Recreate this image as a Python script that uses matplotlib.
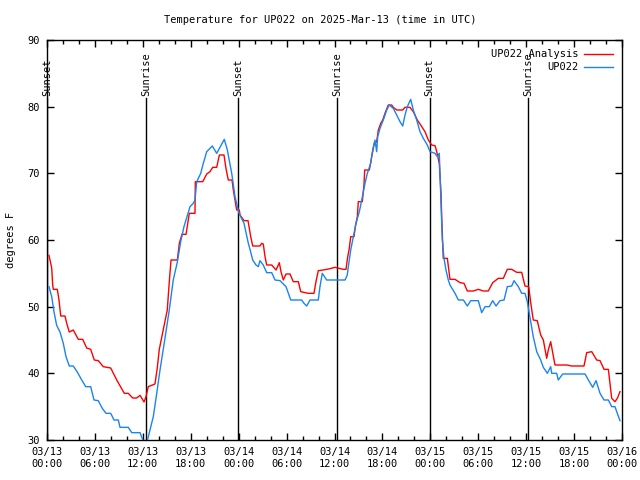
import matplotlib
matplotlib.use("Agg")
import matplotlib.pyplot as plt
from matplotlib.ticker import MultipleLocator, FixedLocator

plt.rcParams['font.family'] = ['DejaVu Sans Mono']

title = "Temperature for UP022 on 2025-Mar-13 (time in UTC)"
ylabel = "degrees F"

# hours since 03/13 00:00 UTC
red_h = [0.25, 0.59, 0.71, 0.79, 1.29, 1.50, 1.72, 2.25, 2.47, 2.79, 3.29, 3.92, 4.47, 4.97, 5.47, 5.92,
         6.42, 7.05, 7.98, 8.73, 9.68, 10.18, 10.73, 11.23, 11.65, 12.15, 12.40, 12.68, 13.52, 13.81, 14.06,
         15.06, 15.31, 15.53, 16.32, 16.57, 16.90, 17.41, 17.82, 18.53, 18.57, 19.50, 20.00, 20.41, 20.75,
         21.25, 21.58, 22.16, 22.41, 22.70, 23.17, 23.33, 23.75, 24.08, 24.17, 24.67, 25.17, 25.51, 25.76,
         26.67, 26.88, 27.08, 27.30, 27.51, 28.14, 28.68, 29.09, 29.30, 29.59, 29.93, 30.43, 30.84, 31.47,
         31.77, 32.72, 33.43, 33.68, 33.97, 34.60, 35.44, 36.06, 36.60, 37.10, 37.44, 37.63, 37.85, 38.03,
         38.44, 38.61, 38.86, 38.98, 39.48, 39.69, 39.78, 40.36, 40.66, 40.98, 41.28, 41.49, 41.79, 42.04,
         42.32, 42.74, 43.16, 43.36, 43.79, 44.54, 44.83, 45.45, 45.87, 46.37, 46.79, 47.33, 47.75, 48.17,
         48.59, 48.80, 49.12, 49.34, 49.42, 49.55, 49.62, 50.13, 50.46, 51.09, 51.72, 52.22, 52.63, 53.38,
         54.01, 54.63, 55.26, 55.81, 56.51, 57.14, 57.64, 58.19, 58.82, 59.44, 59.85, 60.32, 60.61, 60.89,
         61.39, 61.82, 62.15, 62.57, 62.77, 63.07, 63.61, 65.08, 65.70, 67.24, 67.58, 68.21, 68.83, 69.25,
         69.75, 70.29, 70.71, 71.12, 71.41, 71.75]
red_t = [57.7, 55.8, 53.3, 52.6, 52.6, 51.0, 48.6, 48.6, 47.5, 46.2, 46.5, 45.1, 45.1, 43.8, 43.6, 42.0,
         41.9, 41.0, 40.8, 39.0, 37.0, 37.0, 36.3, 36.3, 36.7, 35.7, 36.5, 38.0, 38.4, 40.8, 43.6,
         49.5, 53.7, 57.0, 57.0, 59.5, 60.85, 60.85, 64.0, 64.0, 68.75, 68.75, 69.9, 70.25, 70.9,
         70.9, 72.75, 72.75, 70.75, 69.0, 69.0, 67.5, 64.5, 64.5, 63.75, 62.9, 62.9, 60.5, 59.1,
         59.1, 59.5, 59.4, 57.5, 56.25, 56.25, 55.5, 56.6, 55.25, 54.0, 54.9, 54.9, 53.75, 53.75,
         52.25, 52.0, 52.0, 53.75, 55.4, 55.5, 55.7, 55.9, 55.75, 55.6, 55.6, 57.3, 58.75, 60.5,
         60.5, 62.0, 63.5, 65.75, 65.75, 68.25, 70.5, 70.5, 72.5, 74.5, 74.75, 76.5, 77.5, 78.0,
         79.0, 80.25, 80.25, 79.9, 79.5, 79.5, 79.9, 79.9, 79.25, 78.0, 77.25, 76.25, 75.0, 74.25,
         74.15, 73.25, 71.5, 67.0, 63.5, 59.5, 57.25, 57.25, 54.1, 54.1, 53.6, 53.5, 52.35, 52.35,
         52.6, 52.35, 52.35, 53.6, 54.25, 54.25, 55.6, 55.6, 55.15, 55.15, 53.1, 53.0, 50.25, 48.0,
         47.9, 45.75, 45.0, 42.25, 43.5, 44.75, 41.25, 41.25, 41.1, 41.1, 43.1, 43.25, 42.0, 41.9,
         40.6, 40.6, 36.25, 35.75, 36.25, 37.25]

blue_h = [0.25, 0.59, 0.88, 1.21, 1.63, 2.04, 2.38, 2.79, 3.29, 3.79, 4.35, 4.85, 5.47, 5.89, 6.42, 6.92,
          7.39, 7.98, 8.39, 8.93, 9.14, 10.18, 10.61, 11.65, 12.06, 12.54, 12.90, 13.31, 13.74, 14.15,
          14.74, 15.31, 15.81, 16.32, 16.74, 17.15, 17.91, 18.32, 18.53, 18.75, 19.25, 19.57, 20.00, 20.70,
          21.25, 22.20, 22.58, 23.13, 23.54, 24.04, 24.67, 25.21, 25.42, 25.76, 26.17, 26.46, 26.67, 27.08,
          27.51, 28.14, 28.55, 29.18, 29.59, 29.93, 30.22, 30.52, 31.89, 32.18, 32.52, 32.93, 33.97, 34.18,
          34.47, 35.02, 37.32, 37.60, 37.73, 38.03, 38.36, 38.69, 39.11, 39.41, 39.82, 40.11, 40.53, 40.78,
          41.07, 41.28, 41.41, 41.70, 42.11, 42.54, 42.86, 43.36, 43.79, 44.20, 44.54, 44.83, 45.12, 45.54,
          45.87, 46.29, 46.71, 47.12, 47.62, 47.96, 48.59, 48.87, 49.12, 49.21, 49.34, 49.50, 49.71, 49.96,
          50.25, 50.46, 51.09, 51.51, 52.14, 52.63, 53.06, 54.01, 54.43, 54.85, 55.39, 55.81, 56.23, 56.72,
          57.23, 57.64, 58.19, 58.48, 59.02, 59.44, 59.85, 60.14, 60.48, 60.89, 61.32, 61.82, 62.15, 62.65,
          63.07, 63.20, 63.82, 64.02, 64.57, 67.37, 67.79, 68.33, 68.75, 69.25, 69.75, 70.29, 70.71, 71.12,
          71.41, 71.75]
blue_t = [53.0, 51.5, 49.2, 47.2, 46.2, 44.5, 42.5, 41.1, 41.1, 40.2, 39.0, 38.0, 38.0, 36.0, 35.9, 34.75,
          34.0, 34.0, 33.0, 33.0, 31.9, 31.9, 31.1, 31.1, 29.8, 29.8, 31.5, 33.5, 37.0, 40.5,
          45.0, 49.5, 54.0, 56.7, 59.75, 62.0, 65.0, 65.5, 66.0, 68.75, 70.0, 71.5, 73.25, 74.1,
          73.0, 75.1, 73.5, 70.0, 66.5, 64.0, 62.5, 59.5, 58.6, 57.0, 56.25, 56.0, 56.9, 56.25,
          55.1, 55.1, 54.0, 53.9, 53.4, 53.0, 52.0, 51.0, 51.0, 50.5, 50.1, 51.0, 51.0, 53.0,
          55.0, 54.0, 54.0, 54.75, 56.0, 58.5, 60.5, 62.5, 64.25, 66.0, 68.5, 70.0, 71.5, 73.5,
          75.0, 73.25, 75.5, 76.75, 78.0, 79.5, 80.25, 79.75, 78.75, 77.75, 77.1, 78.75, 80.0, 81.1,
          79.5, 78.0, 76.25, 75.25, 74.25, 73.25, 73.0, 72.5, 73.0, 70.0, 66.0, 60.0, 57.25, 55.5,
          54.0, 53.25, 52.0, 51.0, 51.0, 50.1, 50.9, 50.9, 49.1, 50.0, 50.0, 50.9, 50.1, 50.9,
          51.0, 53.0, 53.1, 53.9, 53.0, 52.0, 52.0, 50.75, 48.4, 45.5, 43.25, 42.0, 40.9, 40.0,
          41.0, 40.0, 40.0, 39.0, 39.9, 39.9, 39.0, 37.9, 38.9, 37.0, 36.0, 36.0, 35.0, 35.0,
          34.0, 32.9]

event_h = [0.0, 12.4, 23.9, 36.3, 47.9, 60.2]
event_lbl = ["Sunset", "Sunrise", "Sunset", "Sunrise", "Sunset", "Sunrise"]

xtick_h = [0, 6, 12, 18, 24, 30, 36, 42, 48, 54, 60, 66, 72]
xtick_lbl = ["03/13\n00:00", "03/13\n06:00", "03/13\n12:00", "03/13\n18:00",
             "03/14\n00:00", "03/14\n06:00", "03/14\n12:00", "03/14\n18:00",
             "03/15\n00:00", "03/15\n06:00", "03/15\n12:00", "03/15\n18:00",
             "03/16\n00:00"]
ytick_v = [30, 40, 50, 60, 70, 80, 90]

fig = plt.figure(figsize=(6.4, 4.8), dpi=100)
ax = fig.add_axes([47/640, 40/480, 575/640, 400/480])

fs = 7.5
for h, lbl in zip(event_h, event_lbl):
    ax.axvline(h, ymin=0, ymax=0.855, color='black', lw=1.0, zorder=3)
    ax.text(h, 0.86, lbl, transform=ax.get_xaxis_transform(), rotation=90,
            ha='center', va='bottom', fontsize=fs, zorder=3)

ax.plot(red_h, red_t, color='#ff0000', lw=1.0, label='UP022 Analysis', zorder=4)
ax.plot(blue_h, blue_t, color='#1a84f0', lw=1.0, label='UP022', zorder=5)

ax.set_xlim(0, 72)
ax.set_ylim(30, 90)
ax.xaxis.set_major_locator(FixedLocator(xtick_h))
ax.set_xticklabels(xtick_lbl)
ax.xaxis.set_minor_locator(MultipleLocator(2))
ax.set_yticks(ytick_v)
ax.tick_params(which='both', direction='in', top=True, right=True, labelsize=fs, width=1, pad=5)
ax.tick_params(which='major', length=5)
ax.tick_params(which='minor', length=3)
for s in ax.spines.values():
    s.set_linewidth(1.0)

ax.set_ylabel(ylabel, fontsize=fs, labelpad=8)
fig.text(0.5, 1 - 20/480, title, ha='center', va='center', fontsize=fs)

leg = ax.legend(loc='upper right', frameon=False, fontsize=fs, handlelength=2.7,
                markerfirst=False, borderaxespad=0.5, borderpad=0.4, labelspacing=0.3,
                handletextpad=0.6)
for t in leg.get_texts():
    t.set_ha('right')

fig.savefig('out.png', dpi=100)
